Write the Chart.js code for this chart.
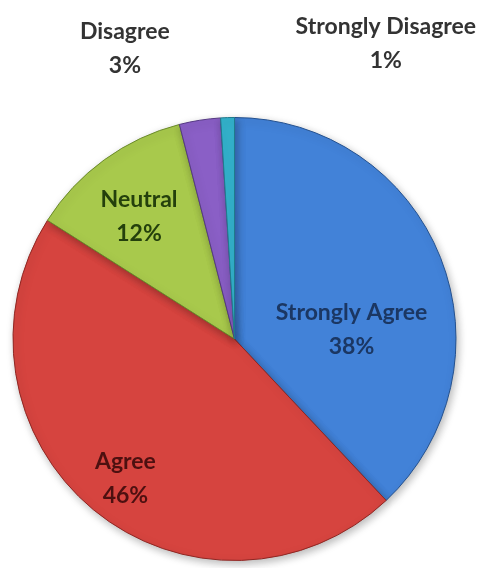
<!DOCTYPE html>
<html>
<head>
<meta charset="utf-8">
<script src="https://cdn.jsdelivr.net/npm/chart.js@4"></script>
<style>
  html, body { margin: 0; padding: 0; background: #fff; }
  #wrap { width: 477px; height: 568px; }
</style>
</head>
<body>
<div id="wrap"><canvas id="pie"></canvas></div>
<script>
const categorias = ["Strongly Agree", "Agree", "Neutral", "Disagree", "Strongly Disagree"]
const porcentajes = [38, 46, 12, 3, 1]

const colores = ["#4282d8", "#d6443f", "#a8c94c", "#8a5fc6", "#33b2cc"]
const bordes = ["#24518f", "#8f2622", "#6a8a2a", "#553884", "#1f7a8c"]
const coloresTexto = ["#1b3763", "#4d1010", "#24400c", "#333333", "#333333"]

// donde va cada etiqueta: angulo (grados desde arriba) y fraccion del radio
const posEtiquetas = [
  { ang: 85.6, r: 0.53 },
  { ang: 218, r: 0.80 },
  { ang: 322, r: 0.70 },
  { ang: 339.3, r: 1.40 },
  { ang: 27.1, r: 1.50 },
]

function aclarar(hex, f) {
  const n = parseInt(hex.slice(1), 16)
  let r = n >> 16, g = (n >> 8) & 255, b = n & 255
  r = Math.round(r + (255 - r) * f)
  g = Math.round(g + (255 - g) * f)
  b = Math.round(b + (255 - b) * f)
  return `rgb(${r},${g},${b})`
}

function relleno(ctx) {
  const chart = ctx.chart
  const arc = chart.getDatasetMeta(0).data[ctx.dataIndex]
  const base = colores[ctx.dataIndex]
  if (!arc || !arc.outerRadius) return base
  const g = chart.ctx.createRadialGradient(arc.x, arc.y, 0, arc.x, arc.y, arc.outerRadius)
  g.addColorStop(0, aclarar(base, 0.04))
  g.addColorStop(0.9, base)
  g.addColorStop(0.955, aclarar(base, 0.15))
  g.addColorStop(1, base)
  return g
}

const sombra = {
  id: "sombra",
  beforeDatasetDraw(chart) {
    const c = chart.ctx
    c.save()
    c.shadowColor = "rgba(0,0,0,0.28)"
    c.shadowBlur = 8
    c.shadowOffsetX = 2
    c.shadowOffsetY = 3
  },
  afterDatasetDraw(chart) {
    chart.ctx.restore()
  }
}

const etiquetas = {
  id: "etiquetas",
  afterDraw(chart) {
    const c = chart.ctx
    const arcos = chart.getDatasetMeta(0).data
    c.save()
    c.font = "bold 23px Lato"
    c.textAlign = "center"
    c.textBaseline = "middle"
    arcos.forEach((arc, i) => {
      const p = posEtiquetas[i]
      const a = p.ang * Math.PI / 180
      const x = arc.x + Math.sin(a) * arc.outerRadius * p.r
      const y = arc.y - Math.cos(a) * arc.outerRadius * p.r
      c.fillStyle = coloresTexto[i]
      c.fillText(categorias[i], x, y - 17)
      c.fillText(porcentajes[i] + "%", x, y + 17)
    })
    c.restore()
  }
}

const config = {
  type: "pie",
  data: {
    labels: categorias,
    datasets: [{
      data: porcentajes,
      backgroundColor: relleno,
      borderColor: bordes,
      borderWidth: 1,
    }]
  },
  options: {
    responsive: true,
    maintainAspectRatio: false,
    animation: false,
    layout: { padding: { left: 12, right: 20, top: 117, bottom: 7 } },
    plugins: {
      legend: { display: false },
      tooltip: { enabled: false },
    }
  },
  plugins: [sombra, etiquetas]
}

new Chart(document.getElementById("pie"), config)
</script>
</body>
</html>
